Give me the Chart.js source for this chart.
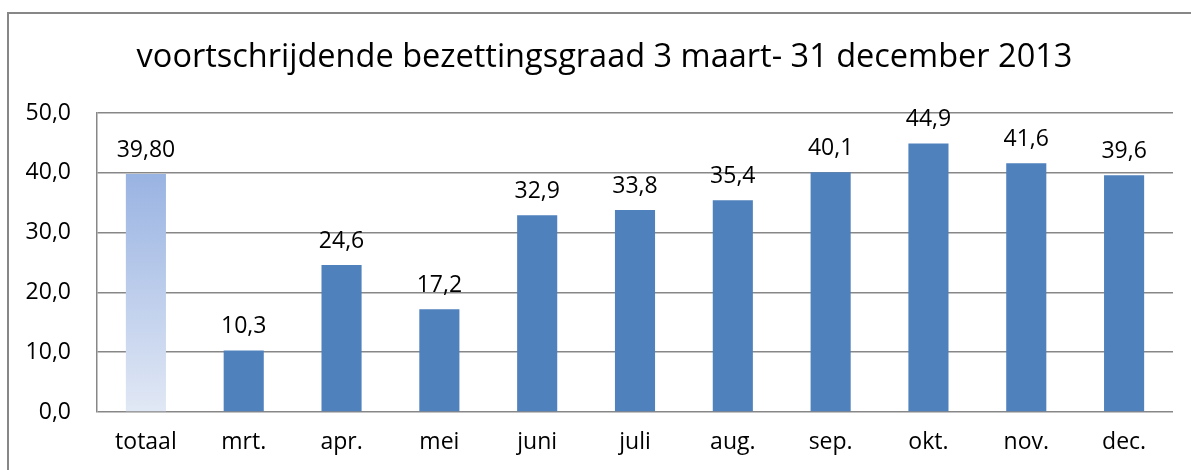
<!DOCTYPE html>
<html>
<head>
<meta charset="utf-8">
<script src="https://cdn.jsdelivr.net/npm/chart.js@4"></script>
<style>
  html, body { margin: 0; padding: 0; background: #ffffff; }
  #wrap { width: 1191px; height: 470px; }
</style>
</head>
<body>
<div id="wrap"><canvas id="c" width="1191" height="470"></canvas></div>
<script>
const titleText = 'voortschrijdende bezettingsgraad 3 maart- 31 december 2013';
const categories = ['totaal', 'mrt.', 'apr.', 'mei', 'juni', 'juli', 'aug.', 'sep.', 'okt.', 'nov.', 'dec.'];
const values = [39.80, 10.3, 24.6, 17.2, 32.9, 33.8, 35.4, 40.1, 44.9, 41.6, 39.6];
const labelDecimals = [2, 1, 1, 1, 1, 1, 1, 1, 1, 1, 1];
const yTicks = [0, 10, 20, 30, 40, 50];

const FONT = '"Open Sans", "Liberation Sans", sans-serif';
const GRID = '#878787';

const frame = {
  id: 'frame',
  afterLayout(chart) {
    // centre the title over the chart frame rather than the full canvas
    if (chart.titleBlock) chart.titleBlock.left = 36;
  },
  beforeDraw(chart) {
    const ctx = chart.ctx;
    ctx.save();
    ctx.fillStyle = '#ffffff';
    ctx.fillRect(0, 0, chart.width, chart.height);
    ctx.strokeStyle = GRID;
    ctx.lineWidth = 2;
    ctx.beginPath();
    ctx.moveTo(8, chart.height + 2);
    ctx.lineTo(8, 13);
    ctx.lineTo(chart.width + 2, 13);
    ctx.stroke();
    ctx.restore();
  }
};

const valueLabels = {
  id: 'valueLabels',
  afterDatasetsDraw(chart) {
    const ctx = chart.ctx;
    const meta = chart.getDatasetMeta(0);
    ctx.save();
    ctx.font = '23px ' + FONT;
    ctx.fillStyle = '#000000';
    ctx.textAlign = 'center';
    ctx.textBaseline = 'alphabetic';
    meta.data.forEach((bar, i) => {
      const txt = values[i].toFixed(labelDecimals[i]).replace('.', ',');
      ctx.fillText(txt, bar.x, bar.y - 17);
    });
    ctx.restore();
  }
};

function barColor(context) {
  if (context.dataIndex !== 0) return '#4f81bd';
  const chart = context.chart;
  const area = chart.chartArea;
  if (!area) return '#9bb5e3';
  const y = chart.scales.y;
  const g = chart.ctx.createLinearGradient(0, y.getPixelForValue(values[0]), 0, y.getPixelForValue(0));
  g.addColorStop(0, '#99b3e2');
  g.addColorStop(1, '#e1e8f5');
  return g;
}

new Chart(document.getElementById('c'), {
  type: 'bar',
  data: {
    labels: categories,
    datasets: [{
      data: values,
      backgroundColor: barColor,
      borderWidth: 0,
      categoryPercentage: 1.0,
      barPercentage: 0.41
    }]
  },
  options: {
    responsive: false,
    animation: false,
    devicePixelRatio: 1,
    layout: { padding: { left: 0, right: 18, top: 0, bottom: 0 } },
    plugins: {
      legend: { display: false },
      tooltip: { enabled: false },
      title: {
        display: true,
        text: titleText,
        color: '#000000',
        font: { family: FONT, size: 32.5, weight: 'normal' },
        padding: { top: 38, bottom: 36 }
      }
    },
    scales: {
      x: {
        grid: { display: false, drawTicks: false },
        border: { display: false },
        ticks: {
          color: '#000000',
          font: { family: FONT, size: 23 },
          padding: 17,
          maxRotation: 0,
          autoSkip: false
        },
        afterFit(s) { s.height = 58; }
      },
      y: {
        min: 0,
        max: 50,
        afterBuildTicks(s) { s.ticks = yTicks.map(v => ({ value: v })); },
        grid: { color: GRID, lineWidth: 1.5, drawTicks: false },
        border: { display: true, color: GRID, width: 1.5 },
        ticks: {
          color: '#000000',
          font: { family: FONT, size: 23 },
          padding: 26,
          callback: v => v.toFixed(1).replace('.', ',')
        },
        afterFit(s) { s.width = 97; }
      }
    }
  },
  plugins: [frame, valueLabels]
});
</script>
</body>
</html>
